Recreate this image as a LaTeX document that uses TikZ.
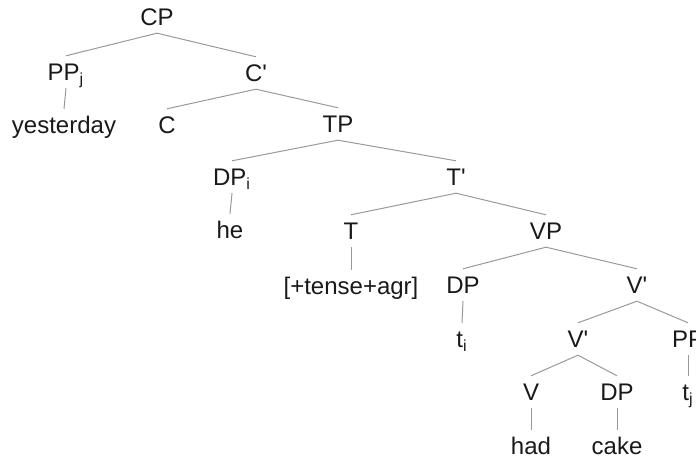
\documentclass[tikz,border=0pt]{standalone}
\usepackage{fontspec}
\setmainfont{Liberation Sans}
\usepackage{tikz}

\begin{document}
\begin{tikzpicture}[x=0.5pt,y=0.5pt,
  lbl/.style={font=\fontsize{12}{14}\selectfont, text=black!90, inner xsep=1pt, inner ysep=3.6pt, text height=8.6pt, text depth=0pt},
  branch/.style={draw=black!40, line width=0.5pt}]
\useasboundingbox (0,0) rectangle (696,-459);
% labels, row by row
\node[lbl] (CP) at (157,-17) {CP};
\node[lbl] (PPj) at (66,-72) {PP\textsubscript{j}};
\node[lbl] (Cbar) at (256,-73) {C\textquotesingle};
\node[lbl] (yesterday) at (64,-125) {yesterday};
\node[lbl] (C) at (167,-125) {C};
\node[lbl] (TP) at (338,-124) {TP};
\node[lbl] (DPi) at (232,-177) {DP\textsubscript{i}};
\node[lbl] (Tbar) at (456,-177) {T\textquotesingle};
\node[lbl] (he) at (230,-230) {he};
\node[lbl] (T) at (351,-231) {T};
\node[lbl] (VP) at (546,-231) {VP};
\node[lbl] (tense) at (351,-286) {[+tense+agr]};
\node[lbl] (DPt) at (463,-285) {DP};
\node[lbl] (Vbar) at (637,-285) {V\textquotesingle};
\node[lbl] (ti) at (462,-339) {t\textsubscript{i}};
\node[lbl] (Vbarlow) at (578,-339) {V\textquotesingle};
\node[lbl] (PPt) at (688,-339) {PP};
\node[lbl] (V) at (531,-392) {V};
\node[lbl] (DPcake) at (617,-392) {DP};
\node[lbl] (tj) at (688,-392) {t\textsubscript{j}};
\node[lbl] (had) at (531,-446) {had};
\node[lbl] (cake) at (617,-446) {cake};
% branches
\foreach \a/\b in {CP/PPj, CP/Cbar, PPj/yesterday, Cbar/C, Cbar/TP, TP/DPi, TP/Tbar,
  DPi/he, Tbar/T, Tbar/VP, T/tense, VP/DPt, VP/Vbar, DPt/ti, Vbar/Vbarlow, Vbar/PPt,
  Vbarlow/V, Vbarlow/DPcake, PPt/tj, V/had, DPcake/cake}
  \draw[branch] (\a.south) -- (\b.north);
\end{tikzpicture}
\end{document}
